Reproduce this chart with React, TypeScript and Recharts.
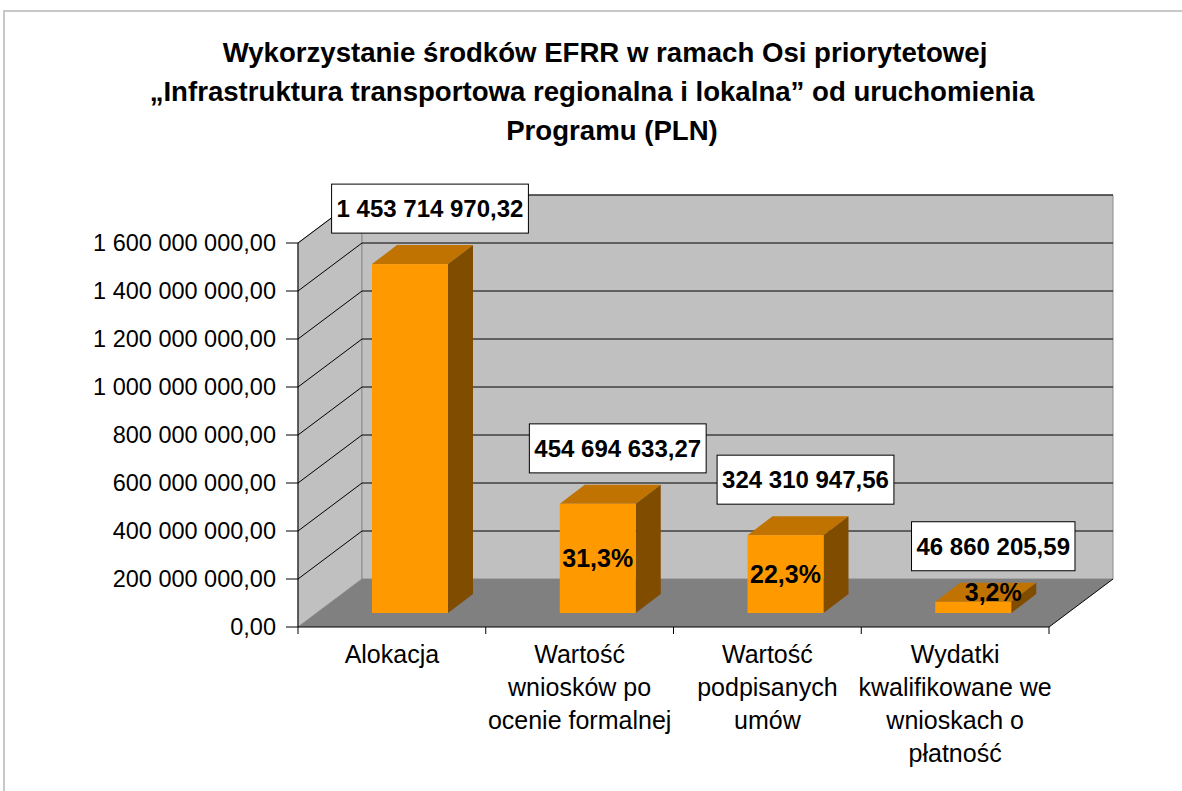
import React from 'react';
import { BarChart, Bar, XAxis, YAxis, ReferenceArea, ReferenceLine, LabelList } from 'recharts';

// ---------- data ----------
const categories = [
  'Alokacja',
  'Wartość wniosków po ocenie formalnej',
  'Wartość podpisanych umów',
  'Wydatki kwalifikowane we wnioskach o płatność',
];
const categoryLines = [
  ['Alokacja'],
  ['Wartość', 'wniosków po', 'ocenie formalnej'],
  ['Wartość', 'podpisanych', 'umów'],
  ['Wydatki', 'kwalifikowane we', 'wnioskach o', 'płatność'],
];
const values = [1453714970.32, 454694633.27, 324310947.56, 46860205.59];
const percentLabels = ['', '31,3%', '22,3%', '3,2%'];
const yTicks = [0, 200000000, 400000000, 600000000, 800000000, 1000000000, 1200000000, 1400000000, 1600000000];
const titleLines = [
  'Wykorzystanie środków EFRR w ramach Osi priorytetowej',
  '„Infrastruktura transportowa regionalna i lokalna” od uruchomienia',
  'Programu (PLN)',
];

const data = categories.map((c, i) => ({ name: c, value: values[i], pct: percentLabels[i], idx: i }));

// ---------- style constants ----------
const FONT = '"Liberation Sans", Arial, sans-serif';
const WALL_DX = 64;
const WALL_DY = 48;
const BAR_OFF_X = 18;
const BAR_OFF_Y = 14;
const BAR_DX = 25;
const BAR_DY = 19;

const fmtNum = (v: number, dec = 2) => {
  const [int, frac] = v.toFixed(dec).split('.');
  const g = int.replace(/\B(?=(\d{3})+(?!\d))/g, ' ');
  return frac !== undefined ? `${g},${frac}` : g;
};

const emWidth = (s: string) => {
  let w = 0;
  for (const ch of s) {
    if (/[0-9]/.test(ch)) w += 0.556;
    else if (ch === ' ' || ch === ',') w += 0.278;
    else if (ch === '%') w += 0.889;
    else w += 0.6;
  }
  return w;
};

const Walls = (p: any) => {
  const { x, y, width: w, height: h } = p;
  const bx = x + WALL_DX;
  const by = y - WALL_DY;
  return (
    <g>
      <polygon points={`${x},${y} ${bx},${by} ${bx},${by + h} ${x},${y + h}`} fill="#c0c0c0" stroke="#8c8c8c" strokeWidth={1} />
      <polygon points={`${bx},${by} ${bx + w},${by} ${bx + w},${by + h} ${bx},${by + h}`} fill="#c0c0c0" stroke="#8c8c8c" strokeWidth={1} />
      <polygon points={`${x},${y + h} ${bx},${by + h} ${bx + w},${by + h} ${x + w},${y + h}`} fill="#808080" stroke="none" />
      <line x1={x + w} y1={y + h} x2={bx + w} y2={by + h} stroke="#000" strokeWidth={1} />
    </g>
  );
};

const GridLine3D = (p: any) => {
  const { x1, y1, x2 } = p;
  return (
    <g>
      <line x1={x1} y1={y1} x2={x1 + WALL_DX} y2={y1 - WALL_DY} stroke="#000" strokeWidth={1} />
      <line x1={x1 + WALL_DX} y1={y1 - WALL_DY} x2={x2 + WALL_DX} y2={y1 - WALL_DY} stroke="#000" strokeWidth={1} />
    </g>
  );
};

const Bar3D = (p: any) => {
  const { x, y, width: w, height: h } = p;
  if (w == null || h == null) return null;
  const fx = x + BAR_OFF_X;
  const fy = y - BAR_OFF_Y;
  return (
    <g>
      <polygon points={`${fx},${fy} ${fx + w},${fy} ${fx + w + BAR_DX},${fy - BAR_DY} ${fx + BAR_DX},${fy - BAR_DY}`} fill="#c07300" />
      <polygon points={`${fx + w},${fy} ${fx + w + BAR_DX},${fy - BAR_DY} ${fx + w + BAR_DX},${fy + h - BAR_DY} ${fx + w},${fy + h}`} fill="#804c00" />
      <rect x={fx} y={fy} width={w} height={h} fill="#ff9900" />
    </g>
  );
};

const getBox = (p: any) => {
  const vb = p.viewBox && p.viewBox.width != null ? p.viewBox : p;
  return { x: vb.x, y: vb.y, width: vb.width, height: vb.height };
};

const ValueLabel = (p: any) => {
  const { x, y, width } = getBox(p);
  const text = fmtNum(Number(p.value));
  const fs = 24;
  const bw = emWidth(text) * fs + 10;
  const bh = 49;
  const cx = x + width / 2 + BAR_OFF_X + 20;
  const bottom = y - BAR_OFF_Y - 31;
  return (
    <g>
      <rect x={cx - bw / 2} y={bottom - bh} width={bw} height={bh} fill="#fff" stroke="#000" strokeWidth={1} />
      <text x={cx} y={bottom - bh / 2} dy="0.36em" textAnchor="middle" fontFamily={FONT} fontWeight="bold" fontSize={fs} fill="#000">
        {text}
      </text>
    </g>
  );
};

const PctLabel = (p: any) => {
  const { x, y, width, height } = getBox(p);
  const text = String(p.value ?? '');
  if (!text) return null;
  const fx = x + BAR_OFF_X;
  const fy = y - BAR_OFF_Y;
  let cx = fx + width / 2;
  let cy = fy + height / 2;
  if (height < 30) {
    cx = fx + width / 2 + 20;
    cy = fy - BAR_DY / 2;
  }
  return (
    <text x={cx} y={cy} dy="0.36em" textAnchor="middle" fontFamily={FONT} fontWeight="bold" fontSize={25} fill="#000">
      {text}
    </text>
  );
};

const CatTick = (p: any) => {
  const { x, y, payload } = p;
  const i = payload?.index ?? p.index ?? 0;
  const lines = categoryLines[i] || [String(payload?.value ?? '')];
  const half = payload?.offset ?? 93.9;
  const axisY = y - 7;
  return (
    <g>
      <line x1={x - half} y1={axisY} x2={x - half} y2={axisY + 7} stroke="#000" strokeWidth={1} />
      {i === categories.length - 1 && (
        <line x1={x + half} y1={axisY} x2={x + half} y2={axisY + 7} stroke="#000" strokeWidth={1} />
      )}
      <text textAnchor="middle" fontFamily={FONT} fontSize={25} fill="#000">
        {lines.map((l, k) => (
          <tspan key={k} x={x} y={axisY + 36 + k * 33}>
            {l}
          </tspan>
        ))}
      </text>
    </g>
  );
};

const titleCenters = [605, 592, 612];

export default function App() {
  return (
    <div style={{ position: 'absolute', left: 0, top: 0, width: 1182, height: 791, background: '#fff', overflow: 'hidden' }}>
      <div
        style={{
          position: 'absolute',
          left: 3,
          top: 10,
          width: 1300,
          height: 900,
          borderLeft: '2px solid #c8c8c8',
          borderTop: '2px solid #c8c8c8',
        }}
      />
      <svg width={1182} height={160} style={{ position: 'absolute', left: 0, top: 0 }}>
        {titleLines.map((t, i) => (
          <text key={i} x={titleCenters[i]} y={62 + i * 39} textAnchor="middle" fontFamily={FONT} fontWeight="bold" fontSize={27.6} fill="#000">
            {t}
          </text>
        ))}
      </svg>
      <div style={{ position: 'absolute', left: 0, top: 0 }}>
        <BarChart width={1182} height={791} data={data} margin={{ top: 243, right: 133, bottom: 14, left: 0 }} barSize={76}>
          <ReferenceArea y1={0} y2={1600000000} ifOverflow="visible" shape={Walls} zIndex={-200} fill="none" />
          {yTicks
            .filter((v) => v > 0)
            .map((v) => (
              <ReferenceLine key={v} y={v} ifOverflow="visible" shape={GridLine3D} zIndex={-150} stroke="#000" />
            ))}
          <XAxis
            dataKey="name"
            height={150}
            axisLine={{ stroke: '#000', strokeWidth: 1 }}
            tickLine={false}
            tickSize={7}
            tickMargin={0}
            interval={0}
            tick={<CatTick />}
          />
          <YAxis
            width={298}
            domain={[0, 1600000000]}
            ticks={yTicks}
            interval={0}
            tickFormatter={(v: number) => fmtNum(v)}
            axisLine={{ stroke: '#000', strokeWidth: 1 }}
            tickLine={{ stroke: '#000', strokeWidth: 1 }}
            tickSize={12}
            tickMargin={10}
            tick={{ fill: '#000', fontSize: 23.5, fontFamily: FONT }}
          />
          <Bar dataKey="value" shape={Bar3D} isAnimationActive={false}>
            <LabelList dataKey="value" content={ValueLabel} />
            <LabelList dataKey="pct" content={PctLabel} />
          </Bar>
        </BarChart>
      </div>
    </div>
  );
}
